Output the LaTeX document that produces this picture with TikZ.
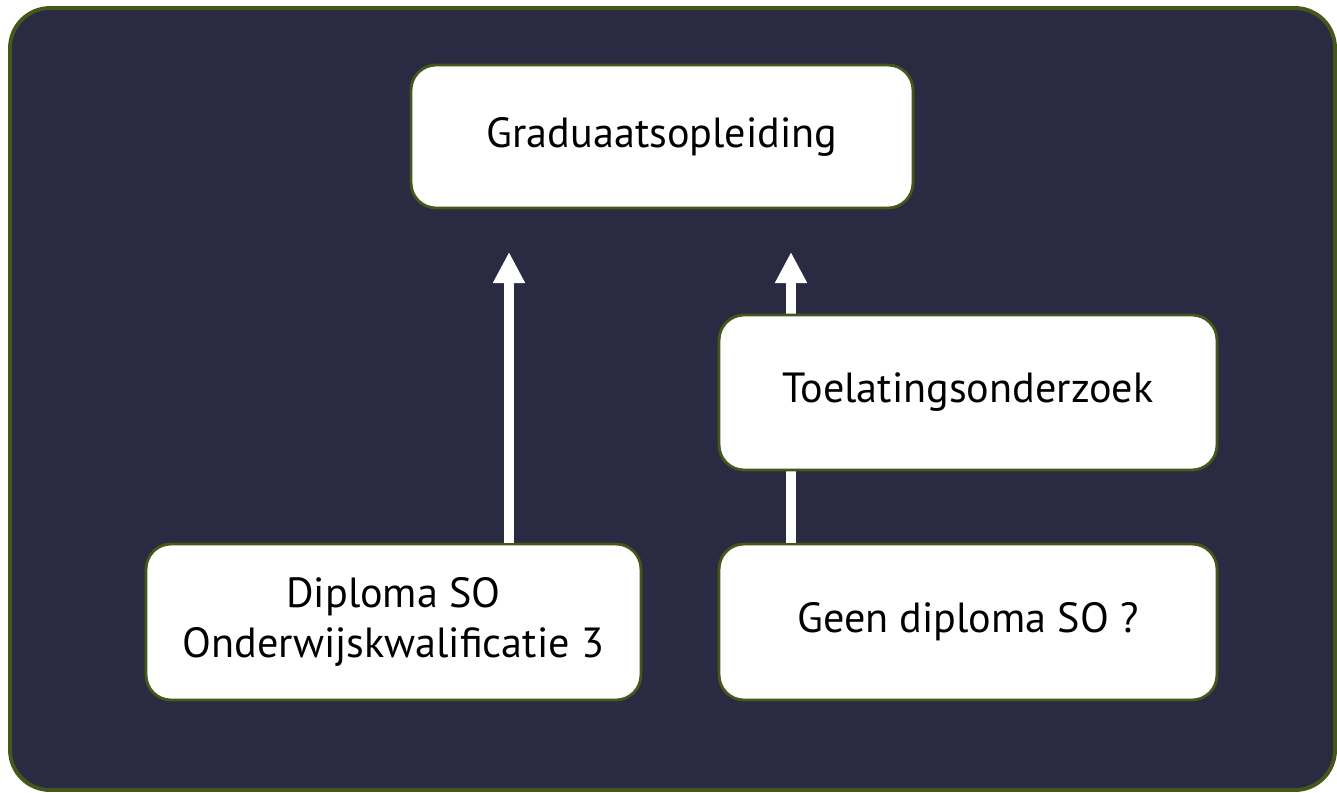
\documentclass[tikz,border=0pt]{standalone}
\usepackage{fontspec}
\setmainfont{PT Sans}
\usetikzlibrary{arrows.meta}
\definecolor{navy}{RGB}{42,42,66}
\definecolor{moss}{RGB}{68,88,26}

\begin{document}
\begin{tikzpicture}[x=0.02cm,y=-0.02cm,
  box/.style={draw=moss,line width=1.6pt,fill=white,rounded corners=0.5cm,
    align=center,text=black,font=\fontsize{24}{28.5}\selectfont,inner sep=0pt},
  up/.style={draw=white,line width=0.2cm,-{Triangle[width=0.6cm,length=0.62cm]}}]
\fill[white] (0,0) rectangle (1337,792);
\draw[moss,fill=navy,line width=2.2pt,rounded corners=0.8cm] (10,8) rectangle (1335,790);
\node[box,minimum width=10.04cm,minimum height=2.86cm] at (662,136.5) (grad) {Graduaatsopleiding};
\node[box,minimum width=9.9cm,minimum height=3.12cm] at (393.5,622) (dipl) {Diploma SO\\Onderwijskwalificatie 3};
\node[box,minimum width=9.96cm,minimum height=3.12cm] at (968,622) (geen) {Geen diploma SO ?};
\coordinate (tipA) at (509,252);
\coordinate (tipB) at (791,252);
\draw[up] (dipl.north -| tipA) -- (tipA);
\draw[up] (geen.north -| tipB) -- (tipB);
\node[box,minimum width=9.96cm,minimum height=3.1cm] at (968,392.5) (toel) {Toelatingsonderzoek};
\end{tikzpicture}
\end{document}
